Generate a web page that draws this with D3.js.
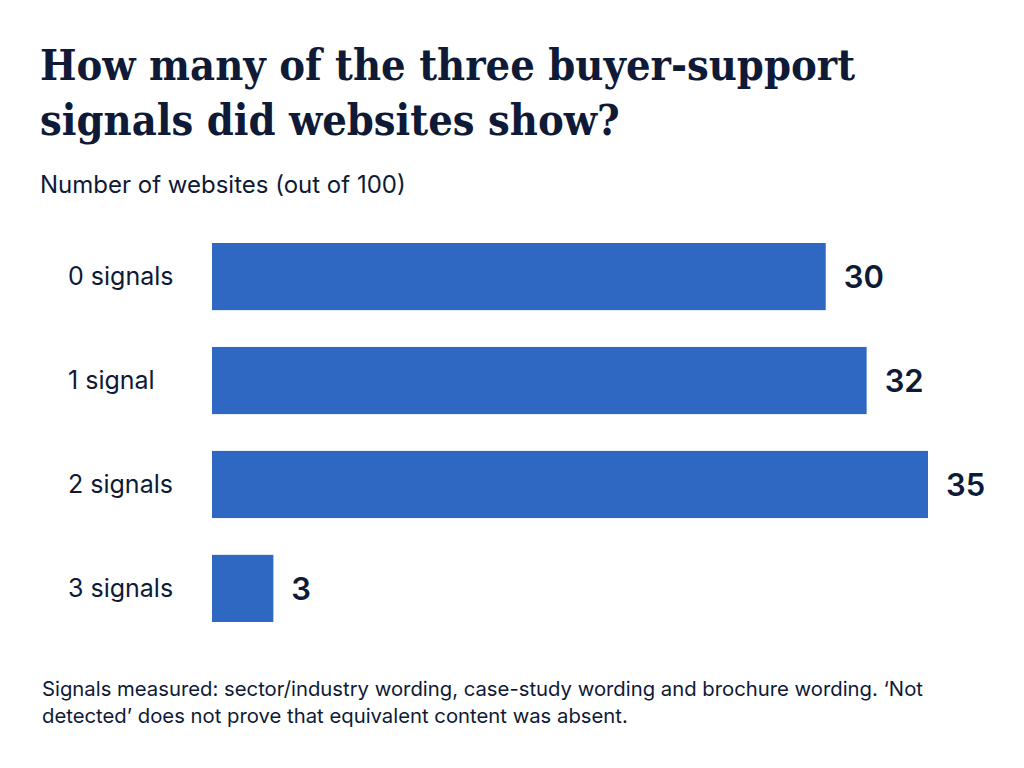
<!DOCTYPE html>
<html>
<head>
<meta charset="utf-8">
<script src="https://cdn.jsdelivr.net/npm/d3@7"></script>
<style>
  body { margin: 0; background: #fff; }
</style>
</head>
<body>
<script>
// chart data
const categories = ["0 signals", "1 signal", "2 signals", "3 signals"];
const values = [30, 32, 35, 3];
const titleLines = ["How many of the three buyer-support", "signals did websites show?"];
const subtitle = "Number of websites (out of 100)";
const noteLines = [
  "Signals measured: sector/industry wording, case-study wording and brochure wording. \u2018Not",
  "detected\u2019 does not prove that equivalent content was absent."
];

const width = 1024, height = 768;
const ink = "#0e1a36";
const sans = "Inter, 'Noto Sans', sans-serif";

const svg = d3.select("body").append("svg")
  .attr("width", width)
  .attr("height", height);

svg.append("g")
  .selectAll("text")
  .data(titleLines)
  .join("text")
    .attr("x", 40)
    .attr("y", (d, i) => 80 + i * 55)
    .attr("fill", ink)
    .attr("font-family", "'DejaVu Serif', serif")
    .attr("font-stretch", "condensed")
    .attr("font-weight", "bold")
    .attr("font-size", 43)
    .text(d => d);

svg.append("text")
  .attr("x", 40)
  .attr("y", 193)
  .attr("fill", ink)
  .attr("font-family", sans)
  .attr("font-size", 24)
  .text(subtitle);

const x = d3.scaleLinear()
  .domain([0, 35])
  .range([212, 928]);

const y = d3.scaleBand()
  .domain(categories)
  .range([243, 622])
  .paddingInner(0.354)
  .paddingOuter(0);

const bars = svg.append("g");

bars.selectAll("rect")
  .data(values)
  .join("rect")
    .attr("x", x(0))
    .attr("y", (d, i) => y(categories[i]))
    .attr("width", d => x(d) - x(0))
    .attr("height", y.bandwidth())
    .attr("fill", "#2e68c2");

// category labels sit left-aligned in the margin
bars.selectAll("text.cat")
  .data(categories)
  .join("text")
    .attr("class", "cat")
    .attr("x", 68)
    .attr("y", d => y(d) + y.bandwidth() / 2)
    .attr("dy", "0.35em")
    .attr("fill", ink)
    .attr("font-family", sans)
    .attr("font-size", 25)
    .text(d => d);

bars.selectAll("text.val")
  .data(values)
  .join("text")
    .attr("class", "val")
    .attr("x", d => x(d) + 18)
    .attr("y", (d, i) => y(categories[i]) + y.bandwidth() / 2)
    .attr("dy", "0.36em")
    .attr("fill", ink)
    .attr("font-family", sans)
    .attr("font-weight", 600)
    .attr("font-size", 31)
    .text(d => d);

svg.append("g")
  .selectAll("text")
  .data(noteLines)
  .join("text")
    .attr("x", 42)
    .attr("y", (d, i) => 696 + i * 27)
    .attr("fill", ink)
    .attr("font-family", sans)
    .attr("font-size", 20.3)
    .text(d => d);
</script>
</body>
</html>
